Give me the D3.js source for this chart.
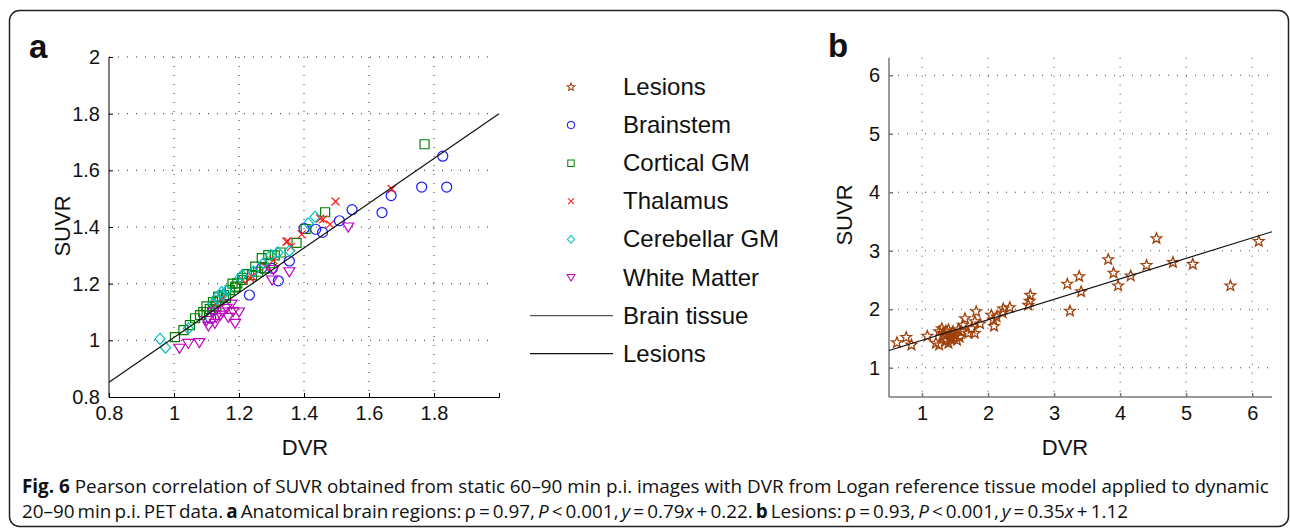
<!DOCTYPE html>
<html>
<head>
<meta charset="utf-8">
<style>
  body { margin: 0; background: #fff; }
  svg { display: block; }
  text { font-family: Arial, "Liberation Sans", Helvetica, sans-serif; fill: #111; }
  text.cap { font-family: "Open Sans", sans-serif; }
</style>
</head>
<body>
<svg id="fig" width="1290" height="531"></svg>
<script src="https://d3js.org/d3.v7.min.js"></script>
<script>
// ---- panel a data (DVR, SUVR) per brain region ----
const brainstemDVR  = [1.827,1.762,1.839,1.668,1.548,1.640,1.509,1.436,1.457,1.355,1.321,1.303,1.232,1.121,1.113,1.400,1.270];
const brainstemSUVR = [1.650,1.541,1.541,1.511,1.461,1.451,1.422,1.392,1.381,1.280,1.210,1.254,1.160,1.107,1.078,1.395,1.255];
const corticalDVR  = [1.771,1.465,1.405,1.377,1.328,1.290,1.295,1.280,1.259,1.224,1.211,1.195,1.188,1.172,1.154,1.136,1.120,1.130,1.110,1.100,1.080,1.065,1.049,1.029,1.003,1.140,1.160,1.250,1.270,1.310,1.210,1.180,1.100,1.120,1.090,1.240,1.190];
const corticalSUVR = [1.692,1.452,1.393,1.344,1.310,1.301,1.272,1.254,1.242,1.234,1.213,1.201,1.187,1.177,1.160,1.154,1.135,1.120,1.110,1.100,1.089,1.078,1.054,1.036,1.011,1.140,1.150,1.260,1.290,1.300,1.220,1.200,1.120,1.120,1.100,1.230,1.190];
const thalamusDVR  = [1.670,1.497,1.459,1.480,1.393,1.346,1.306,1.234,1.211,1.240,1.360,1.350,1.450,1.150,1.130,1.280];
const thalamusSUVR = [1.534,1.490,1.427,1.409,1.374,1.348,1.283,1.221,1.213,1.225,1.330,1.350,1.430,1.150,1.130,1.260];
const cerebellarDVR  = [1.434,1.413,1.355,1.275,1.298,1.244,1.203,1.162,1.147,1.130,1.044,0.957,0.974,1.210,1.150,1.320,1.120];
const cerebellarSUVR = [1.436,1.413,1.316,1.272,1.301,1.242,1.222,1.175,1.171,1.150,1.042,1.005,0.974,1.230,1.160,1.310,1.130];
const whiteDVR  = [1.536,1.355,1.302,1.306,1.177,1.182,1.162,1.188,1.167,1.143,1.126,1.106,1.017,1.044,1.078,1.100,1.150,1.130,1.120,1.200];
const whiteSUVR = [1.400,1.242,1.213,1.250,1.128,1.101,1.113,1.060,1.081,1.089,1.060,1.050,0.972,0.989,0.992,1.070,1.100,1.080,1.100,1.100];

// ---- panel b data (lesions) ----
const lesionDVR  = [0.62,0.76,0.84,1.08,1.21,1.26,1.30,1.32,1.33,1.26,1.40,1.37,1.40,1.43,1.47,1.50,1.53,1.55,1.60,1.62,1.65,1.70,1.75,1.80,1.80,1.82,1.88,2.05,2.08,2.09,2.13,2.22,2.23,2.33,2.61,2.63,2.64,3.24,3.20,3.38,3.41,3.82,3.90,3.97,4.16,4.40,4.55,4.80,5.10,5.67,6.10,1.45,1.48,1.35,1.57,1.36,1.44];
const lesionSUVR = [1.43,1.52,1.39,1.54,1.42,1.39,1.67,1.59,1.56,1.62,1.65,1.47,1.42,1.49,1.62,1.56,1.47,1.65,1.62,1.73,1.84,1.59,1.67,1.59,1.79,1.96,1.75,1.90,1.82,1.71,1.87,1.94,2.01,2.03,2.07,2.14,2.24,1.97,2.43,2.56,2.30,2.85,2.62,2.40,2.57,2.75,3.21,2.80,2.77,2.40,3.16,1.50,1.52,1.45,1.52,1.63,1.58];

// regression fits from caption
const fitA = {slope: 0.79, icpt: 0.22};
const fitB = {slope: 0.35, icpt: 1.12};

// ticks
const ticksAx = [0.8,1,1.2,1.4,1.6,1.8];
const ticksAy = [0.8,1,1.2,1.4,1.6,1.8,2];
const ticksB  = [1,2,3,4,5,6];

const legendLabels = ["Lesions","Brainstem","Cortical GM","Thalamus","Cerebellar GM","White Matter","Brain tissue","Lesions"];

// marker shapes
const star = (() => {
  let p = "";
  for (let i = 0; i < 10; i++) {
    const r = i % 2 ? 2.4 : 5.6, a = -Math.PI/2 + i*Math.PI/5;
    p += (i ? "L" : "M") + (r*Math.cos(a)).toFixed(2) + "," + (r*Math.sin(a)).toFixed(2);
  }
  return p + "Z";
})();
const shapes = {
  star: star,
  circle: "M5,0A5,5 0 1,1 -5,0A5,5 0 1,1 5,0Z",
  square: "M-4.5,-4.5h9v9h-9Z",
  cross: "M-4,-4L4,4M-4,4L4,-4",
  diamond: "M0,-5.5L5,0L0,5.5L-5,0Z",
  tri: "M-5.5,-4L5.5,-4L0,5Z"
};

const series = [
  {name:"Brainstem",  x:brainstemDVR,  y:brainstemSUVR,  shape:"circle",  color:"#1a1aff"},
  {name:"Cortical",   x:corticalDVR,   y:corticalSUVR,   shape:"square",  color:"#008000"},
  {name:"Thalamus",   x:thalamusDVR,   y:thalamusSUVR,   shape:"cross",   color:"#ff1a1a"},
  {name:"Cerebellar", x:cerebellarDVR, y:cerebellarSUVR, shape:"diamond", color:"#00bfbf"},
  {name:"White",      x:whiteDVR,      y:whiteSUVR,      shape:"tri",     color:"#bf00bf"}
];
const lesionColor = "#a0400a";

const svg = d3.select("#fig");

// outer rounded frame
svg.append("rect").attr("x",9.5).attr("y",10.5).attr("width",1279).attr("height",516)
  .attr("rx",10).attr("fill","none").attr("stroke","#222").attr("stroke-width",1.5);

function styleTicks(g) {
  g.selectAll("text").attr("font-size",20).attr("fill","#111");
}

// ---------- panel a ----------
const xa = d3.scaleLinear().domain([0.8,2.0]).range([109,499]);
const ya = d3.scaleLinear().domain([0.8,2.0]).range([397,57]);
const ga = svg.append("g");

ga.selectAll(".vg").data(ticksAx.slice(1)).join("line")
  .attr("x1",d=>xa(d)).attr("x2",d=>xa(d)).attr("y1",ya(2)).attr("y2",ya(0.8))
  .attr("stroke","#333").attr("stroke-dasharray","1,8");
ga.selectAll(".hg").data(ticksAy.slice(1)).join("line")
  .attr("y1",d=>ya(d)).attr("y2",d=>ya(d)).attr("x1",xa(0.8)).attr("x2",494)
  .attr("stroke","#333").attr("stroke-dasharray","1,8");

ga.append("g").attr("transform",`translate(${xa(0.8)},0)`)
  .call(d3.axisLeft(ya).tickValues(ticksAy).tickSize(-4).tickPadding(9).tickFormat(d3.format("~g")))
  .call(g => g.select(".domain").attr("d",`M0,${ya(0.8)}V${ya(2)}`))
  .call(styleTicks);
ga.append("g").attr("transform",`translate(0,${ya(0.8)})`)
  .call(d3.axisBottom(xa).tickValues(ticksAx).tickSize(-4).tickPadding(9).tickFormat(d3.format("~g")))
  .call(styleTicks);

series.forEach(s => {
  ga.append("g").selectAll("path").data(s.x.map((v,i)=>[v,s.y[i]])).join("path")
    .attr("d",shapes[s.shape]).attr("transform",d=>`translate(${xa(d[0])},${ya(d[1])})`)
    .attr("fill","none").attr("stroke",s.color).attr("stroke-width",1.2);
});

ga.append("line")
  .attr("x1",xa(0.8)).attr("y1",ya(fitA.slope*0.8+fitA.icpt))
  .attr("x2",xa(2.0)).attr("y2",ya(fitA.slope*2.0+fitA.icpt))
  .attr("stroke","#111").attr("stroke-width",1.2);

ga.append("text").attr("x",305).attr("y",455).attr("text-anchor","middle").attr("font-size",22).text("DVR");
ga.append("text").attr("transform","translate(70,226) rotate(-90)").attr("text-anchor","middle").attr("font-size",22).text("SUVR");
ga.append("text").attr("x",29).attr("y",58).attr("font-size",33).attr("font-weight","bold").text("a");

// legend
const lg = svg.append("g");
const legendShapes = ["star","circle","square","cross","diamond","tri"];
const legendColors = [lesionColor].concat(series.map(s=>s.color));
legendLabels.forEach((lab,i) => {
  const cy = 87 + i*38.1;
  if (i < 6) {
    lg.append("path").attr("d",shapes[legendShapes[i]])
      .attr("transform",`translate(571,${cy}) scale(0.72)`)
      .attr("fill","none").attr("stroke",legendColors[i]).attr("stroke-width",1.4);
  } else {
    lg.append("line").attr("x1",530).attr("x2",613).attr("y1",cy).attr("y2",cy)
      .attr("stroke", i===6 ? "#555" : "#111").attr("stroke-width",1.2);
  }
  lg.append("text").attr("x",623).attr("y",cy+8).attr("font-size",24).text(lab);
});

// ---------- panel b ----------
const xb = d3.scaleLinear().domain([0.5,6.3]).range([889,1272]);
const yb = d3.scaleLinear().domain([0.5,6.3]).range([397,57.7]);
const gb = svg.append("g");

gb.selectAll(".vg").data(ticksB).join("line")
  .attr("x1",d=>xb(d)).attr("x2",d=>xb(d)).attr("y1",yb(6.3)).attr("y2",yb(0.5))
  .attr("stroke","#444").attr("stroke-dasharray","1,8");
gb.selectAll(".hg").data(ticksB).join("line")
  .attr("y1",d=>yb(d)).attr("y2",d=>yb(d)).attr("x1",xb(0.5)).attr("x2",xb(6.3))
  .attr("stroke","#444").attr("stroke-dasharray","1,8");

gb.append("g").attr("transform",`translate(${xb(0.5)},0)`)
  .call(d3.axisLeft(yb).tickValues(ticksB).tickSize(-4).tickPadding(9).tickFormat(d3.format("d")))
  .call(g => g.selectAll(".domain,line").attr("stroke","#777").attr("stroke-width",1.5))
  .call(g => g.select(".domain").attr("d",`M0,${yb(0.5)}V${yb(6.3)}`))
  .call(styleTicks);
gb.append("g").attr("transform",`translate(0,${yb(0.5)})`)
  .call(d3.axisBottom(xb).tickValues(ticksB).tickSize(-4).tickPadding(9).tickFormat(d3.format("d")))
  .call(g => g.selectAll(".domain,line").attr("stroke","#777").attr("stroke-width",1.5))
  .call(g => g.select(".domain").attr("d",`M${xb(0.5)},0H${xb(6.3)}`))
  .call(styleTicks);

gb.append("g").selectAll("path").data(lesionDVR.map((v,i)=>[v,lesionSUVR[i]])).join("path")
  .attr("d",shapes.star).attr("transform",d=>`translate(${xb(d[0])},${yb(d[1])})`)
  .attr("fill","none").attr("stroke",lesionColor).attr("stroke-width",1.3);

gb.append("line")
  .attr("x1",xb(0.5)).attr("y1",yb(fitB.slope*0.5+fitB.icpt))
  .attr("x2",xb(6.3)).attr("y2",yb(fitB.slope*6.3+fitB.icpt))
  .attr("stroke","#111").attr("stroke-width",1.2);

gb.append("text").attr("x",1065).attr("y",455).attr("text-anchor","middle").attr("font-size",22).text("DVR");
gb.append("text").attr("transform","translate(852,215) rotate(-90)").attr("text-anchor","middle").attr("font-size",22).text("SUVR");
gb.append("text").attr("x",828).attr("y",57).attr("font-size",33).attr("font-weight","bold").text("b");

// ---------- caption ----------
const cap = svg.append("g");
const l1 = cap.append("text").attr("class","cap").attr("x",22).attr("y",493).attr("font-size",16);
l1.append("tspan").attr("font-weight","bold").text("Fig. 6");
l1.append("tspan").text(" Pearson correlation of SUVR obtained from static 60–90 min p.i. images with DVR from Logan reference tissue model applied to dynamic");
const l2 = cap.append("text").attr("class","cap").attr("x",22).attr("y",518).attr("font-size",16);
const l2parts = [["20–90 min p.i. PET data. ",""],["a","b"],[" Anatomical brain regions: ρ = 0.97, ",""],["P","i"],[" < 0.001, ",""],["y","i"],[" = 0.79",""],["x","i"],[" + 0.22. ",""],["b","b"],[" Lesions: ρ = 0.93, ",""],["P","i"],[" < 0.001, ",""],["y","i"],[" = 0.35",""],["x","i"],[" + 1.12",""]];
l2parts.forEach(([t,st]) => {
  const ts = l2.append("tspan").text(t);
  if (st==="b") ts.attr("font-weight","bold");
  if (st==="i") ts.attr("font-style","italic");
});
const w1 = l1.node().getComputedTextLength();
const fs = 16 * 1248 / w1;
l1.attr("font-size",fs); l2.attr("font-size",fs);
// the second line is set tighter in the original: narrow the word gaps to fit
const w2 = l2.node().getComputedTextLength();
const nSpaces = l2parts.map(p=>p[0]).join("").split(" ").length - 1;
l2.attr("word-spacing", ((1106 - w2) / nSpaces).toFixed(2));
</script>
</body>
</html>
